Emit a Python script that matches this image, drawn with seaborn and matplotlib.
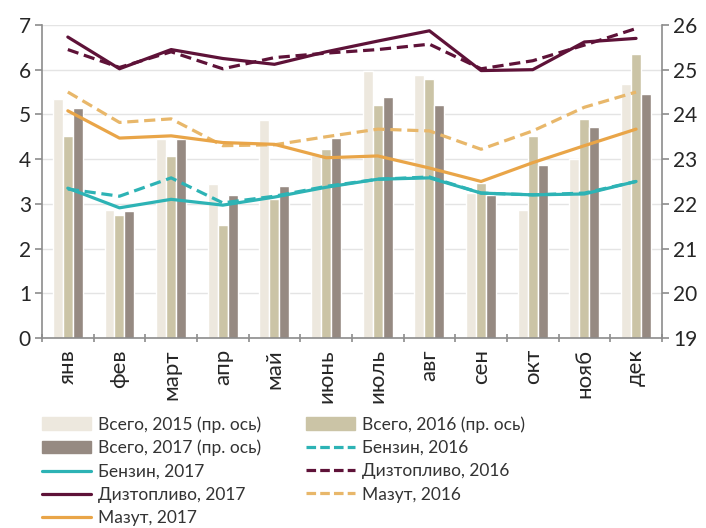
import numpy as np
import pandas as pd
import matplotlib
matplotlib.use('Agg')
import matplotlib.pyplot as plt
import seaborn as sns
from matplotlib.patches import Patch
from matplotlib.lines import Line2D
from matplotlib.ticker import MultipleLocator

months = ['янв', 'фев', 'март', 'апр', 'май', 'июнь',
          'июль', 'авг', 'сен', 'окт', 'нояб', 'дек']

# totals, right axis
total_2015 = [24.35, 21.87, 23.45, 22.45, 23.87, 23.1, 24.98, 24.87, 22.24, 21.87, 23.0, 24.68]
total_2016 = [23.52, 21.76, 23.07, 21.52, 22.1, 23.22, 24.2, 24.8, 22.46, 23.52, 23.9, 25.34]
total_2017 = [24.14, 21.83, 23.45, 22.19, 22.39, 23.47, 24.38, 24.2, 22.2, 22.87, 23.72, 24.46]

# fuels, left axis
benzin_2016 = [3.33, 3.17, 3.58, 3.02, 3.17, 3.39, 3.55, 3.6, 3.24, 3.2, 3.24, 3.5]
benzin_2017 = [3.35, 2.91, 3.1, 2.97, 3.15, 3.37, 3.55, 3.58, 3.24, 3.2, 3.22, 3.5]
dizel_2016 = [6.45, 6.05, 6.4, 6.02, 6.27, 6.37, 6.45, 6.57, 6.02, 6.2, 6.55, 6.92]
dizel_2017 = [6.73, 6.02, 6.45, 6.25, 6.12, 6.4, 6.64, 6.87, 5.98, 6.0, 6.62, 6.7]
mazut_2016 = [5.5, 4.82, 4.9, 4.3, 4.32, 4.5, 4.67, 4.63, 4.22, 4.63, 5.16, 5.5]
mazut_2017 = [5.08, 4.47, 4.52, 4.37, 4.33, 4.03, 4.07, 3.8, 3.5, 3.92, 4.3, 4.67]

bar_colors = {'2015': '#EDE8DE', '2016': '#CBC4A6', '2017': '#968A82'}
c_benz = '#2DB3B5'
c_diz = '#5E1238'
c_maz17 = '#E9A548'
c_maz16 = '#E8B76A'
axis_col = '#8C8C8C'

sns.set_style('white')
plt.rcParams['font.family'] = ['Lato', 'DejaVu Sans']
plt.rcParams['text.color'] = '#333333'

fig = plt.figure(figsize=(7.06, 5.28), dpi=100)
ax = fig.add_axes([0.0595, 0.36, 0.878, 0.5927])

bars = pd.DataFrame({
    'month': months * 3,
    'year': ['2015'] * 12 + ['2016'] * 12 + ['2017'] * 12,
    'value': total_2015 + total_2016 + total_2017,
})
sns.barplot(data=bars, x='month', y='value', hue='year', palette=bar_colors,
            width=0.58, saturation=1, legend=False, ax=ax)
ax.set_ylim(19, 26)
ax.set_xlim(-0.5, 11.5)
ax.grid(axis='y', color='#E4E4E4', lw=1)
ax.set_axisbelow(True)
ax.set_xlabel('')
ax.set_ylabel('')

ax2 = ax.twinx()
series = [
    (benzin_2016, c_benz, '--'), (benzin_2017, c_benz, '-'),
    (mazut_2016, c_maz16, '--'), (mazut_2017, c_maz17, '-'),
    (dizel_2016, c_diz, '--'), (dizel_2017, c_diz, '-'),
]
for vals, col, ls in series:
    sns.lineplot(x=months, y=vals, color=col, lw=2.3, sort=False, ax=ax2)
for ln, (_, _, ls) in zip(ax2.lines, series):
    if ls == '--':
        ln.set_dashes((3.5, 1.8))
ax2.set_ylim(0, 7)
ax2.set_xlim(-0.5, 11.5)
ax2.set_ylabel('')

# bars -> right axis, lines -> left axis
ax.yaxis.tick_right()
ax2.yaxis.tick_left()

for a in (ax, ax2):
    for s in a.spines.values():
        s.set_visible(False)
for side in ('left', 'right', 'bottom'):
    ax.spines[side].set_visible(True)
    ax.spines[side].set_color(axis_col)
    ax.spines[side].set_linewidth(1.2)

ax.yaxis.set_major_locator(MultipleLocator(1))
ax2.yaxis.set_major_locator(MultipleLocator(1))
ax.tick_params(axis='y', right=True, left=False, labelright=True, labelleft=False,
               length=5, width=1.2, color=axis_col, labelsize=15, pad=3)
ax2.tick_params(axis='y', left=True, right=False, labelleft=True, labelright=False,
                length=5, width=1.2, color=axis_col, labelsize=15, pad=3)
ax.set_xticks(range(12))
ax.set_xticklabels(months, rotation=90, fontsize=16)
ax.set_xticks(np.arange(-0.5, 12, 1), minor=True)
ax.tick_params(axis='x', which='major', length=0, pad=8)
ax.tick_params(axis='x', which='minor', bottom=True, length=6, width=1.2,
               color=axis_col, direction='inout')
ax2.tick_params(axis='x', which='both', bottom=False, top=False,
                labelbottom=False, labeltop=False)

handles = [
    Patch(color=bar_colors['2015']), Patch(color=bar_colors['2017']),
    Line2D([], [], color=c_benz, lw=2.3),
    Line2D([], [], color=c_diz, lw=2.3),
    Line2D([], [], color=c_maz17, lw=2.3),
    Patch(color=bar_colors['2016']),
    Line2D([], [], color=c_benz, lw=2.3, dashes=(3, 1.3)),
    Line2D([], [], color=c_diz, lw=2.3, dashes=(3, 1.3)),
    Line2D([], [], color=c_maz16, lw=2.3, dashes=(3, 1.3)),
]
labels = ['Всего, 2015 (пр. ось)', 'Всего, 2017 (пр. ось)', 'Бензин, 2017',
          'Дизтопливо, 2017', 'Мазут, 2017',
          'Всего, 2016 (пр. ось)', 'Бензин, 2016', 'Дизтопливо, 2016', 'Мазут, 2016']
fig.legend(handles, labels, ncol=2, loc='upper left',
           bbox_to_anchor=(0.06, 0.212), frameon=False, fontsize=12.5,
           handlelength=2.8, handletextpad=0.4, columnspacing=2.6,
           labelspacing=0.42, borderpad=0, borderaxespad=0)

fig.savefig('out.png', dpi=100)
